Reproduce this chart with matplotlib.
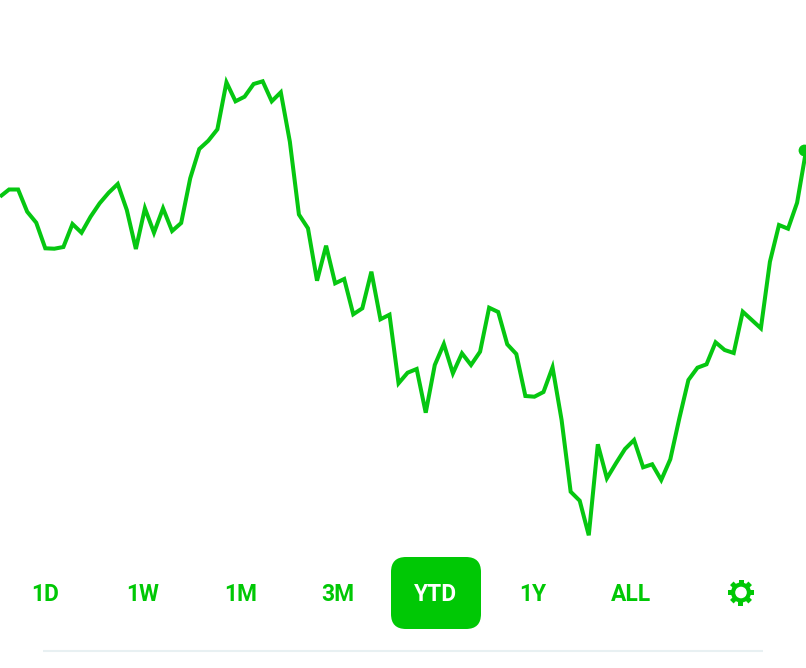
import matplotlib
matplotlib.use("Agg")
import matplotlib.pyplot as plt
from matplotlib.patches import FancyBboxPatch, Circle, Rectangle
from matplotlib.transforms import Affine2D

# Line heights (pixels from the top of the image)
series_y = [
    196.7, 189.5, 189.5, 211.7, 222.7, 248.3, 248.7, 247.0, 224.0, 232.7,
    216.7, 203.3, 192.7, 184.0, 210.0, 249.0, 208.3, 232.7, 208.3, 231.0,
    223.0, 178.3, 149.0, 140.7, 129.3, 82.3, 101.3, 96.7, 84.0, 81.3,
    101.3, 92.3, 141.7, 214.5, 228.3, 280.7, 245.7, 283.3, 279.0, 314.3,
    308.3, 271.7, 319.3, 314.7, 383.3, 372.7, 369.0, 412.7, 365.0, 344.0,
    373.3, 353.3, 365.0, 351.7, 307.7, 312.0, 344.3, 354.0, 396.0, 396.7,
    392.0, 367.3, 420.0, 491.7, 500.7, 535.3, 444.3, 478.3, 463.3, 449.0,
    440.0, 467.3, 464.3, 480.0, 459.3, 418.3, 380.0, 367.7, 364.3, 342.3,
    350.0, 353.0, 311.7, 320.0, 328.3, 261.7, 225.0, 228.7, 202.7, 150.0,
]
ranges = ["1D", "1W", "1M", "3M", "YTD", "1Y", "ALL"]
selected = "YTD"

GREEN = "#00c805"
W, H = 806, 668

fig = plt.figure(figsize=(W / 100, H / 100), dpi=100, facecolor="white")
ax = fig.add_axes([0, 0, 1, 1])
ax.set_xlim(0, W / 9.058)
ax.set_ylim(H, 0)
ax.axis("off")

xs = list(range(len(series_y)))
ax.plot(xs, series_y, color="#06c711", lw=2.9, solid_joinstyle="miter",
        solid_capstyle="butt", clip_on=True)
ax.plot(xs[-1] - 0.2, series_y[-1], "o", color="#06c711", ms=8.5, mew=0, clip_on=True)

# Chrome layer in pixel coordinates
ui = fig.add_axes([0, 0, 1, 1], facecolor="none")
ui.set_xlim(0, W)
ui.set_ylim(H, 0)
ui.axis("off")

for i, label in enumerate(ranges):
    cx = 46 + i * 97.5
    if label == selected:
        ui.add_patch(FancyBboxPatch((391 + 15, 557 + 15), 90 - 30, 72 - 30,
                                    boxstyle="round,pad=15,rounding_size=15",
                                    fc=GREEN, ec="none"))
    ui.text(cx - 0.5, 594.5, label, ha="center", va="center", family="Roboto",
            weight="bold", fontsize=16.4,
            color="white" if label == selected else GREEN)

# Settings gear
gx, gy = 741, 592.5
for k in range(8):
    ui.add_patch(Rectangle((gx - 2.5, gy - 13), 5, 6, fc=GREEN, ec="none",
                           transform=Affine2D().rotate_deg_around(gx, gy, k * 45) + ui.transData))
ui.add_patch(Circle((gx, gy), 10, fc=GREEN, ec="none"))
ui.add_patch(Circle((gx, gy), 5.8, fc="white", ec="none"))

ui.plot([43, 763], [651, 651], color="#e8f0f2", lw=1.5, solid_capstyle="butt")

fig.savefig("out.png", dpi=100, facecolor="white")
